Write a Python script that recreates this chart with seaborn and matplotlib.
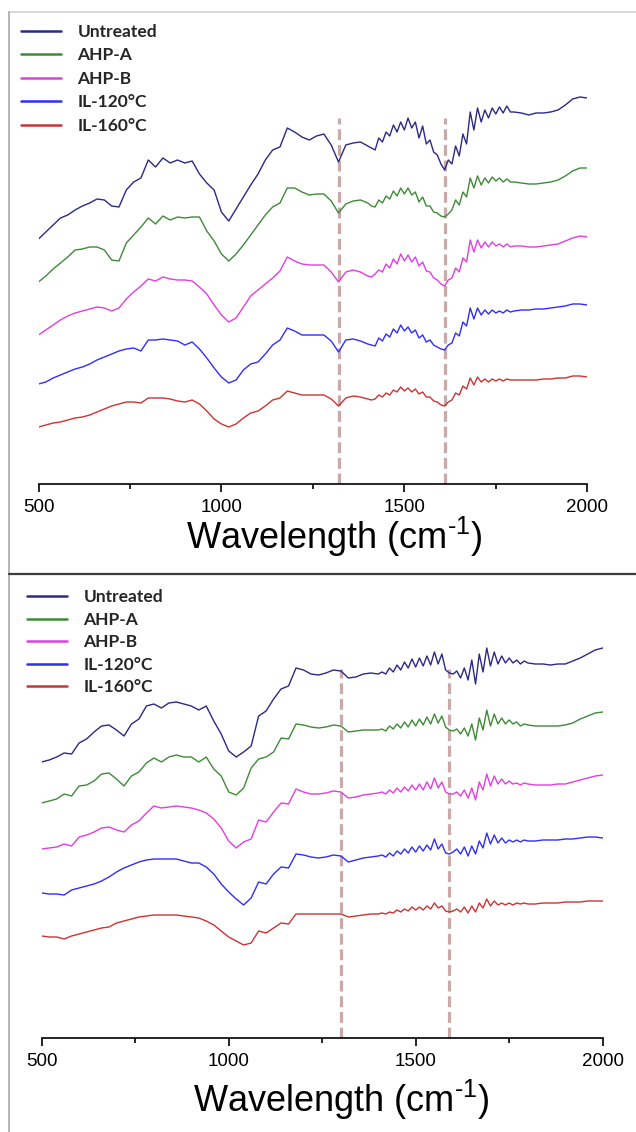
"""FTIR spectra, two stacked panels (offset curves, dashed guide lines)."""
import matplotlib
matplotlib.use("Agg")
import matplotlib.pyplot as plt
from matplotlib.lines import Line2D
import pandas as pd
import seaborn as sns

SAMPLES = ["Untreated", "AHP-A", "AHP-B", "IL-120°C", "IL-160°C"]
COLORS = ["#2b2a85", "#3d8b37", "#e03ee0", "#2f2ff5", "#cc3333"]

# wavenumber grid (cm-1): coarse on smooth part, finer where spectra are noisy
WAVENUMBER = (list(range(500, 1401, 20)) + list(range(1410, 1800, 10))
              + list(range(1800, 2001, 20)))

# --- top panel (offset signal, a.u.) ---
TOP_UNTREATED = [
    251, 258, 265, 272, 275, 280, 284, 287, 291, 290,
    284, 283, 300, 308, 312, 330, 323, 332, 327, 330,
    327, 329, 316, 307, 300, 278, 269, 281, 293, 305,
    316, 330, 340, 343, 362, 358, 353, 350, 354, 356,
    345, 328, 345, 347, 348, 344,
    342, 340, 352, 348, 358, 354, 365, 358, 368, 360,
    372, 362, 368, 352, 364, 346, 350, 338, 335, 326,
    320, 330, 326, 344, 334, 356, 346, 378, 360, 382,
    368, 380, 372, 382, 376, 383, 377, 384, 378,
    378, 377, 375, 377, 377, 378, 380, 385, 391, 393, 392]
TOP_AHP_A = [
    208, 214, 221, 227, 233, 240, 241, 243, 243, 240,
    230, 229, 247, 255, 263, 272, 266, 274, 270, 273,
    272, 273, 273, 259, 249, 236, 229, 236, 245, 255,
    265, 275, 283, 287, 302, 302, 298, 295, 296, 296,
    289, 277, 286, 289, 290, 287,
    284, 283, 290, 287, 294, 291, 299, 294, 302, 296,
    302, 295, 298, 288, 293, 284, 284, 278, 277, 274,
    273, 276, 280, 290, 285, 298, 293, 312, 302, 314,
    305, 312, 307, 313, 309, 312, 308, 311, 308,
    308, 307, 306, 306, 307, 308, 310, 314, 319, 322, 322]
TOP_AHP_B = [
    155, 160, 165, 170, 174, 177, 179, 181, 183, 182,
    179, 182, 191, 198, 204, 211, 209, 213, 211, 210,
    210, 209, 203, 196, 185, 175, 168, 172, 183, 194,
    200, 206, 212, 219, 233, 229, 226, 225, 225, 225,
    218, 208, 218, 220, 218, 214,
    213, 216, 220, 218, 226, 222, 231, 226, 236, 229,
    235, 228, 233, 224, 228, 219, 218, 212, 210, 206,
    204, 210, 212, 222, 218, 232, 228, 250, 238, 250,
    242, 248, 243, 248, 244, 246, 243, 246, 243,
    244, 244, 243, 243, 244, 245, 246, 249, 252, 254, 253]
TOP_IL120 = [
    106, 108, 112, 115, 118, 121, 123, 126, 130, 133,
    136, 139, 141, 142, 139, 150, 150, 151, 150, 149,
    145, 148, 141, 132, 122, 113, 107, 110, 120, 126,
    128, 136, 145, 150, 162, 159, 155, 155, 155, 155,
    149, 138, 150, 151, 149, 146,
    145, 144, 152, 149, 156, 153, 161, 157, 165, 159,
    163, 157, 160, 152, 155, 148, 150, 145, 143, 141,
    140, 145, 147, 157, 154, 168, 164, 182, 171, 182,
    175, 180, 176, 180, 177, 179, 177, 180, 178,
    179, 180, 180, 181, 181, 182, 183, 184, 186, 186, 185]
TOP_IL160 = [
    63, 65, 67, 68, 70, 72, 73, 75, 78, 81,
    84, 86, 88, 88, 87, 92, 92, 92, 91, 89,
    88, 90, 86, 79, 71, 66, 63, 66, 72, 77,
    79, 84, 90, 92, 99, 97, 95, 95, 95, 95,
    91, 84, 92, 94, 93, 91,
    90, 91, 95, 93, 97, 95, 100, 98, 103, 99,
    102, 98, 101, 96, 98, 93, 93, 89, 88, 85,
    84, 88, 90, 97, 95, 104, 101, 112, 105, 113,
    108, 111, 108, 111, 109, 111, 109, 111, 110,
    110, 110, 110, 110, 111, 111, 112, 112, 114, 114, 113]

# --- bottom panel ---
BOT_UNTREATED = [
    282, 284, 287, 291, 290, 301, 305, 312, 318, 319,
    314, 308, 320, 325, 338, 340, 336, 341, 342, 340,
    338, 334, 338, 323, 310, 293, 287, 292, 298, 328,
    333, 345, 355, 358, 376, 374, 370, 369, 371, 374,
    373, 366, 367, 370, 371, 370,
    372, 370, 376, 372, 379, 374, 382, 376, 385, 377,
    386, 378, 388, 379, 392, 380, 390, 374, 371, 370,
    373, 366, 376, 364, 384, 360, 390, 372, 396, 378,
    392, 380, 388, 381, 386, 381, 384, 380, 383,
    381, 380, 380, 379, 380, 380, 383, 386, 390, 394, 396]
BOT_AHP_A = [
    241, 243, 245, 250, 248, 258, 259, 263, 270, 271,
    265, 258, 268, 272, 281, 286, 282, 287, 289, 287,
    287, 282, 287, 275, 268, 252, 249, 256, 276, 285,
    287, 292, 306, 305, 320, 319, 317, 316, 317, 319,
    318, 312, 313, 314, 314, 314,
    315, 313, 318, 315, 320, 316, 322, 317, 324, 318,
    325, 319, 327, 320, 330, 321, 328, 317, 314, 313,
    315, 310, 316, 308, 320, 304, 326, 314, 334, 318,
    330, 320, 326, 320, 324, 320, 322, 318, 320,
    319, 318, 318, 318, 318, 319, 321, 325, 328, 331, 332]
BOT_AHP_B = [
    195, 196, 197, 200, 198, 207, 209, 212, 216, 217,
    214, 212, 219, 223, 231, 238, 236, 237, 238, 237,
    236, 234, 231, 225, 216, 203, 196, 202, 205, 224,
    222, 232, 241, 240, 255, 252, 250, 250, 251, 253,
    252, 246, 247, 249, 250, 251,
    252, 250, 254, 251, 256, 252, 257, 253, 259, 254,
    260, 254, 262, 255, 266, 256, 262, 252, 250, 250,
    252, 248, 254, 246, 256, 244, 262, 254, 270, 258,
    268, 260, 265, 260, 263, 260, 261, 259, 261,
    260, 259, 259, 259, 260, 260, 262, 264, 266, 268, 269]
BOT_IL120 = [
    151, 150, 150, 149, 154, 156, 158, 160, 163, 167,
    172, 176, 179, 182, 184, 185, 185, 185, 185, 183,
    181, 181, 177, 170, 160, 152, 145, 139, 146, 162,
    160, 170, 177, 176, 190, 189, 187, 186, 187, 189,
    188, 182, 184, 186, 187, 188,
    189, 187, 191, 188, 193, 190, 195, 191, 197, 192,
    198, 193, 199, 194, 205, 195, 200, 191, 190, 192,
    195, 190, 197, 188, 198, 190, 203, 196, 211, 200,
    209, 201, 206, 201, 204, 202, 204, 202, 204,
    203, 203, 204, 204, 204, 205, 205, 206, 207, 207, 206]
BOT_IL160 = [
    108, 107, 107, 105, 108, 110, 112, 114, 116, 117,
    121, 123, 125, 127, 128, 129, 129, 129, 129, 128,
    127, 126, 123, 119, 113, 107, 103, 99, 101, 113,
    111, 116, 121, 120, 130, 130, 130, 130, 130, 130,
    130, 127, 128, 129, 130, 130,
    131, 130, 132, 131, 134, 132, 135, 133, 137, 134,
    137, 134, 138, 135, 141, 136, 138, 133, 132, 133,
    135, 132, 137, 131, 138, 132, 141, 136, 145, 138,
    143, 139, 141, 139, 141, 139, 141, 140, 141,
    140, 140, 141, 141, 141, 142, 142, 142, 143, 143, 143]

TOP_SERIES = [TOP_UNTREATED, TOP_AHP_A, TOP_AHP_B, TOP_IL120, TOP_IL160]
BOT_SERIES = [BOT_UNTREATED, BOT_AHP_A, BOT_AHP_B, BOT_IL120, BOT_IL160]

# dashed guide lines (cm-1)
DASH_TOP = [1322, 1610]
DASH_BOT = [1300, 1588]

W, H = 636, 1132


def long_frame(series):
    frames = []
    for name, vals in zip(SAMPLES, series):
        assert len(vals) == len(WAVENUMBER), name
        frames.append(pd.DataFrame({"wavenumber": WAVENUMBER, "signal": vals, "sample": name}))
    return pd.concat(frames, ignore_index=True)


def draw_panel(fig, rect, series, dashes, dash_top, ylim, legend_at, label_at, spacing):
    ax = fig.add_axes(rect)
    df = long_frame(series)
    sns.lineplot(data=df, x="wavenumber", y="signal", hue="sample", hue_order=SAMPLES,
                 palette=dict(zip(SAMPLES, COLORS)), estimator=None, sort=False,
                 lw=1.0, ax=ax, zorder=3)
    ax.vlines(dashes, ylim[0], dash_top, colors="#c7a5a5", lw=2.3,
              linestyles=[(0, (3.4, 1.5))], zorder=2, alpha=0.95)

    ax.set_xlim(500, 2000)
    ax.set_ylim(*ylim)
    sns.despine(ax=ax, left=True)
    ax.spines["bottom"].set_color("black")
    ax.spines["bottom"].set_linewidth(1.2)
    ax.set_yticks([])
    ax.set_ylabel("")
    ax.set_xticks([500, 1000, 1500, 2000])
    ax.set_xticks([750, 1250, 1750], minor=True)
    ax.tick_params(axis="x", which="major", bottom=True, direction="out", length=5.5,
                   width=1.2, color="black", labelsize=13.5, pad=5, labelcolor="black")
    ax.tick_params(axis="x", which="minor", bottom=True, direction="out", length=3.5,
                   width=1.2, color="black")

    # U+2010 hyphen keeps the short dash of the original superscript
    ax.set_xlabel("Wavelength (cm$^{\u20101}$)", fontsize=26, color="black")
    ax.xaxis.set_label_coords(label_at[0] / W, 1 - label_at[1] / H, transform=fig.transFigure)
    ax.xaxis.label.set_verticalalignment("center")

    sns.move_legend(ax, "upper left", bbox_to_anchor=(legend_at[0] / W, 1 - legend_at[1] / H),
                    bbox_transform=fig.transFigure, title=None, frameon=False,
                    handlelength=2.3, handletextpad=0.95, labelspacing=spacing,
                    borderpad=0, borderaxespad=0,
                    prop={"family": "Lato", "weight": "bold", "size": 12.5})
    for h in ax.get_legend().legend_handles:
        h.set_linewidth(1.8)
    return ax


def main():
    sns.set_theme(style="white")
    plt.rcParams["font.family"] = ["Liberation Sans", "DejaVu Sans"]
    plt.rcParams["mathtext.fontset"] = "custom"
    plt.rcParams["mathtext.rm"] = "Liberation Sans"
    plt.rcParams["mathtext.default"] = "regular"

    fig = plt.figure(figsize=(W / 100, H / 100), dpi=100)
    fig.patch.set_facecolor("white")

    # top panel: axis line at y=484 px, frame top at 12 px
    draw_panel(fig, [38.5 / W, 1 - 484 / H, 548.8 / W, 472 / H],
               TOP_SERIES, DASH_TOP, 372, (6, 478), (21, 24), (334, 537), 0.43)
    # bottom panel: axis line at y=1038 px, separator at 575 px
    draw_panel(fig, [41.7 / W, 1 - 1038 / H, 561 / W, 463 / H],
               BOT_SERIES, DASH_BOT, 375, (6, 469), (27, 589), (341, 1100), 0.38)

    # panel frames
    x0 = 9 / W
    fig.add_artist(Line2D([x0, 1], [1 - 12 / H] * 2, transform=fig.transFigure,
                          color="#cfcfcf", lw=1.2))
    fig.add_artist(Line2D([x0, x0], [0, 1 - 12 / H], transform=fig.transFigure,
                          color="#a8a8a8", lw=1.2))
    fig.add_artist(Line2D([x0, 1], [1 - 574 / H] * 2, transform=fig.transFigure,
                          color="#3c3c3c", lw=1.6))

    fig.savefig("out.png", dpi=100)
    plt.close(fig)


if __name__ == "__main__":
    main()
